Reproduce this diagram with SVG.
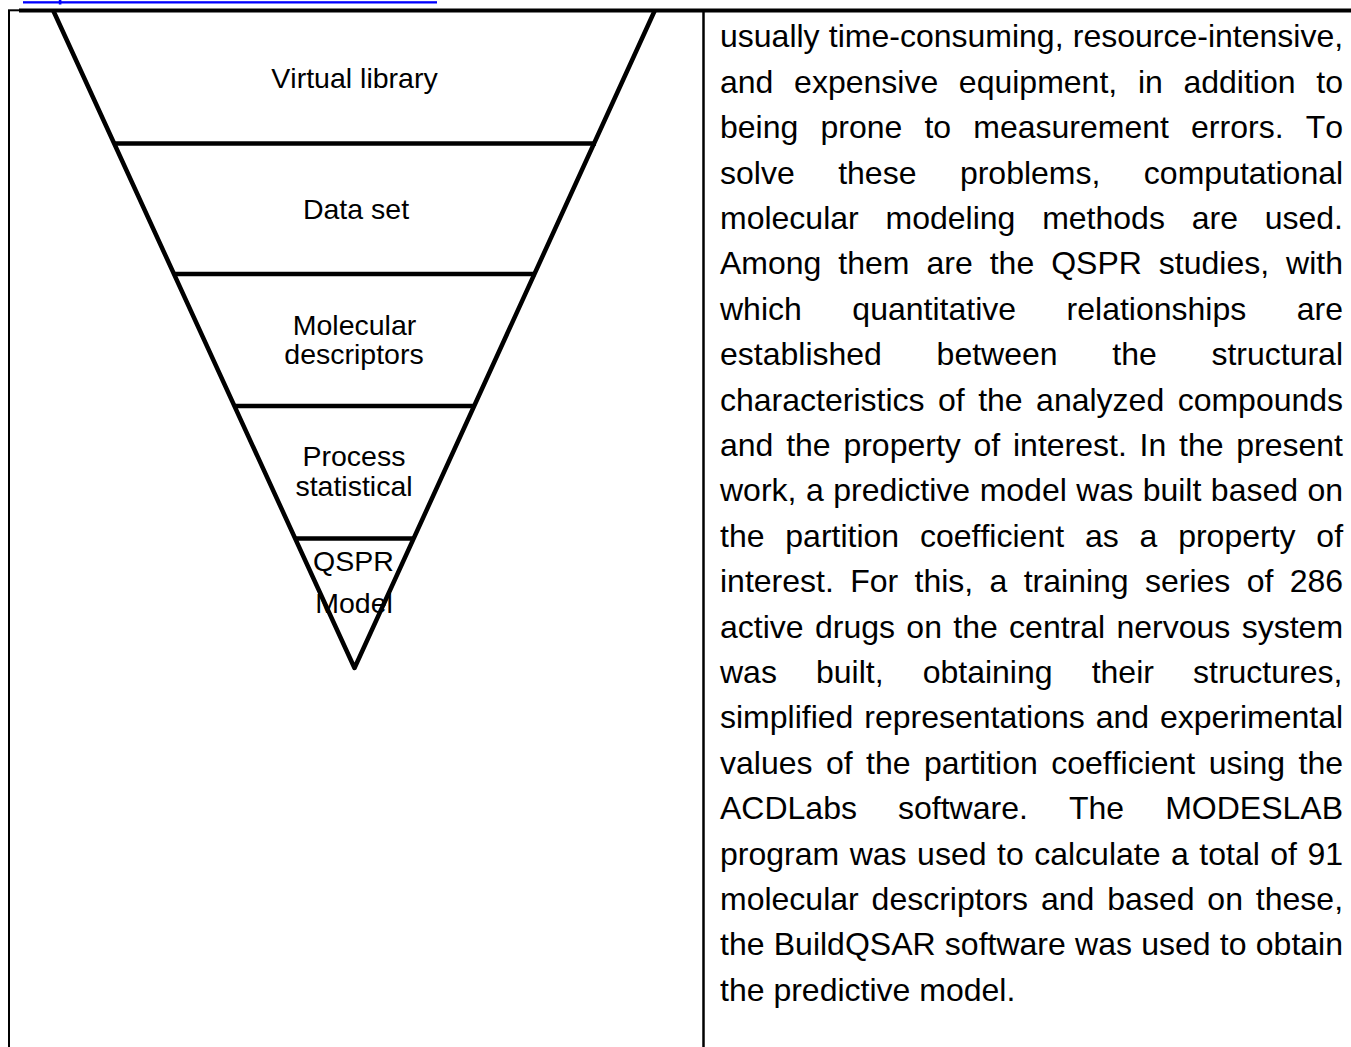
<svg xmlns="http://www.w3.org/2000/svg" width="1351" height="1047" viewBox="0 0 1351 1047">
<style>
.lbl{font-family:"Liberation Sans",Arial,sans-serif;font-size:28.5px;fill:#000;text-anchor:middle;font-kerning:none}
.body{font-family:"Liberation Sans",Arial,sans-serif;font-size:32px;fill:#000;font-kerning:none}
.edge{fill:none;stroke:#000;stroke-width:4.5;stroke-linejoin:round}
.band{stroke:#000;stroke-width:4.6}
</style>
<rect width="1351" height="1047" fill="#fff"/>
<g id="link-fragment">
<rect x="23" y="1.2" width="414" height="2.3" fill="#0000ff"/>
<rect x="58.8" y="0" width="2.6" height="4.5" fill="#0000ff"/>
</g>
<g id="table">
<line x1="9" y1="10.3" x2="9" y2="1047" stroke="#000" stroke-width="2"/>
<line x1="8" y1="10.3" x2="20" y2="10.3" stroke="#000" stroke-width="2"/>
<line x1="19" y1="10.5" x2="1351" y2="10.5" stroke="#000" stroke-width="4"/>
<line x1="703.5" y1="10" x2="703.5" y2="1047" stroke="#000" stroke-width="2.5"/>
</g>
<g id="funnel-outline">
<path class="edge" d="M53,10 L354.5,668 L655,10"/>
</g>
<g id="node-virtual-library">
<text class="lbl" x="354.5" y="88">Virtual library</text>
</g>
<g id="node-data-set">
<line class="band" x1="114" y1="143.5" x2="596" y2="143.5"/>
<text class="lbl" x="356" y="219">Data set</text>
</g>
<g id="node-molecular-descriptors">
<line class="band" x1="173.5" y1="274" x2="536" y2="274"/>
<text class="lbl" x="354.5" y="334.5">Molecular</text>
<text class="lbl" x="354" y="364">descriptors</text>
</g>
<g id="node-process-statistical">
<line class="band" x1="235" y1="406" x2="473.5" y2="406"/>
<text class="lbl" x="354" y="466">Process</text>
<text class="lbl" x="354" y="495.5">statistical</text>
</g>
<g id="node-qspr-model">
<line class="band" x1="295.5" y1="538.5" x2="413.5" y2="538.5"/>
<text class="lbl" x="353.5" y="571">QSPR</text>
<text class="lbl" x="354" y="612.5">Model</text>
</g>
<g id="connectors"/>
<g id="body-text" class="body">
<text x="720" y="47.3" word-spacing="0.3">usually time-consuming, resource-intensive,</text>
<text x="720" y="92.7" word-spacing="11.8">and expensive equipment, in addition to</text>
<text x="720" y="138.1" word-spacing="13.26">being prone to measurement errors. To</text>
<text x="720" y="183.5" word-spacing="34.57">solve these problems, computational</text>
<text x="720" y="228.9" word-spacing="17.9">molecular modeling methods are used.</text>
<text x="720" y="274.3" word-spacing="8.09">Among them are the QSPR studies, with</text>
<text x="720" y="319.7" word-spacing="41.67">which quantitative relationships are</text>
<text x="720" y="365.1" word-spacing="45.8">established between the structural</text>
<text x="720" y="410.5" word-spacing="4.58">characteristics of the analyzed compounds</text>
<text x="720" y="455.9" word-spacing="3.87">and the property of interest. In the present</text>
<text x="720" y="501.3" word-spacing="0.59">work, a predictive model was built based on</text>
<text x="720" y="546.7" word-spacing="11.94">the partition coefficient as a property of</text>
<text x="720" y="592.1" word-spacing="7.45">interest. For this, a training series of 286</text>
<text x="720" y="637.5" word-spacing="2.46">active drugs on the central nervous system</text>
<text x="720" y="682.9" word-spacing="30.2">was built, obtaining their structures,</text>
<text x="720" y="728.3" word-spacing="1.97">simplified representations and experimental</text>
<text x="720" y="773.7" word-spacing="4.52">values of the partition coefficient using the</text>
<text x="720" y="819.1" word-spacing="32.2">ACDLabs software. The MODESLAB</text>
<text x="720" y="864.5" word-spacing="1.62">program was used to calculate a total of 91</text>
<text x="720" y="909.9" word-spacing="4.0">molecular descriptors and based on these,</text>
<text x="720" y="955.3" word-spacing="0.37">the BuildQSAR software was used to obtain</text>
<text x="720" y="1000.7">the predictive model.</text>
</g>
</svg>
